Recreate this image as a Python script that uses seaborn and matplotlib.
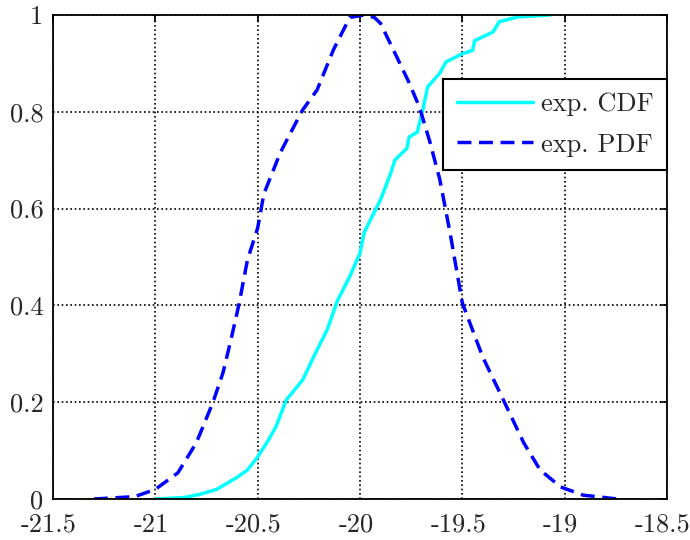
import numpy as np
import matplotlib
matplotlib.use("Agg")
import matplotlib.pyplot as plt
import matplotlib.transforms as mtransforms
import seaborn as sns
import pandas as pd

pdf_x = [-21.3, -21.1, -21.0, -20.89, -20.80, -20.72, -20.67, -20.63, -20.59,
         -20.55, -20.50, -20.47, -20.39, -20.34, -20.28, -20.21, -20.13, -20.05,
         -19.98, -19.93, -19.90, -19.82, -19.76, -19.71, -19.66, -19.61, -19.56,
         -19.50, -19.40, -19.30, -19.20, -19.12, -19.02, -18.91, -18.74]
pdf_y = [0.0, 0.005, 0.02, 0.054, 0.116, 0.198, 0.26, 0.33, 0.405,
         0.494, 0.56, 0.63, 0.715, 0.756, 0.804, 0.845, 0.928, 0.995,
         1.0, 0.995, 0.983, 0.913, 0.86, 0.81, 0.74, 0.66, 0.55,
         0.405, 0.293, 0.205, 0.116, 0.06, 0.025, 0.008, 0.0]

# experimental CDF
cdf_x = [-21.0, -20.86, -20.78, -20.70, -20.60, -20.55, -20.50, -20.45, -20.41,
         -20.36, -20.28, -20.21, -20.16, -20.11, -20.05, -20.0, -19.98, -19.95,
         -19.90, -19.85, -19.83, -19.77, -19.76, -19.72, -19.69, -19.67, -19.61,
         -19.58, -19.50, -19.45, -19.44, -19.35, -19.32, -19.23, -19.07]
cdf_y = [0.0, 0.003, 0.01, 0.02, 0.045, 0.06, 0.087, 0.12, 0.15,
         0.205, 0.246, 0.308, 0.35, 0.41, 0.46, 0.508, 0.55, 0.576,
         0.618, 0.673, 0.70, 0.725, 0.748, 0.758, 0.81, 0.851, 0.88,
         0.903, 0.92, 0.927, 0.947, 0.965, 0.986, 0.996, 1.0]

xticks = [-21.5, -21, -20.5, -20, -19.5, -19, -18.5]
xtick_labels = ["-21.5", "-21", "-20.5", "-20", "-19.5", "-19", "-18.5"]
yticks = [0, 0.2, 0.4, 0.6, 0.8, 1]
ytick_labels = ["0", "0.2", "0.4", "0.6", "0.8", "1"]

sns.set_style("white")
plt.rcParams["font.family"] = ["cmr10", "DejaVu Serif"]
plt.rcParams["xtick.direction"] = "in"
plt.rcParams["ytick.direction"] = "in"

fig = plt.figure(figsize=(6.9, 5.4), dpi=100)
ax = fig.add_axes([0.0768, 0.0759, 0.8899, 0.8963])

cdf = pd.DataFrame({"x": cdf_x, "y": cdf_y})
pdf = pd.DataFrame({"x": pdf_x, "y": pdf_y})
sns.lineplot(data=cdf, x="x", y="y", ax=ax, color="#00ffff", linewidth=2.5,
             label="exp. CDF", sort=False)
sns.lineplot(data=pdf, x="x", y="y", ax=ax, color="#0000ff", linewidth=2.5,
             linestyle=(0, (4.0, 2.2)), label="exp. PDF", sort=False)

ax.set_xlim(-21.5, -18.5)
ax.set_ylim(0, 1)
ax.set_xticks(xticks)
ax.set_xticklabels(xtick_labels)
ax.set_yticks(yticks)
ax.set_yticklabels(ytick_labels)
ax.set_xlabel("")
ax.set_ylabel("")
ax.tick_params(labelsize=19, length=5, width=1.2, color="black",
               top=True, right=True)
ax.tick_params(axis="x", pad=10)
ax.tick_params(axis="y", pad=7)
# MATLAB puts the x labels a touch left of the ticks
shift = mtransforms.ScaledTranslation(-4 / 100, 0, fig.dpi_scale_trans)
for lab in ax.get_xticklabels():
    lab.set_transform(lab.get_transform() + shift)
ax.grid(True, color="black", linestyle=(0, (1.0, 1.6)), linewidth=1.2)
for s in ax.spines.values():
    s.set_color("black")
    s.set_linewidth(1.3)

leg = ax.legend(loc="upper right", bbox_to_anchor=(1.0, 0.868),
                borderaxespad=0, fontsize=19, frameon=True, fancybox=False,
                handlelength=2.9, borderpad=0.5, labelspacing=0.65,
                handletextpad=0.3)
leg.get_frame().set_edgecolor("black")
leg.get_frame().set_linewidth(1.5)
leg.get_frame().set_alpha(1)

fig.savefig("out.png", dpi=100)
